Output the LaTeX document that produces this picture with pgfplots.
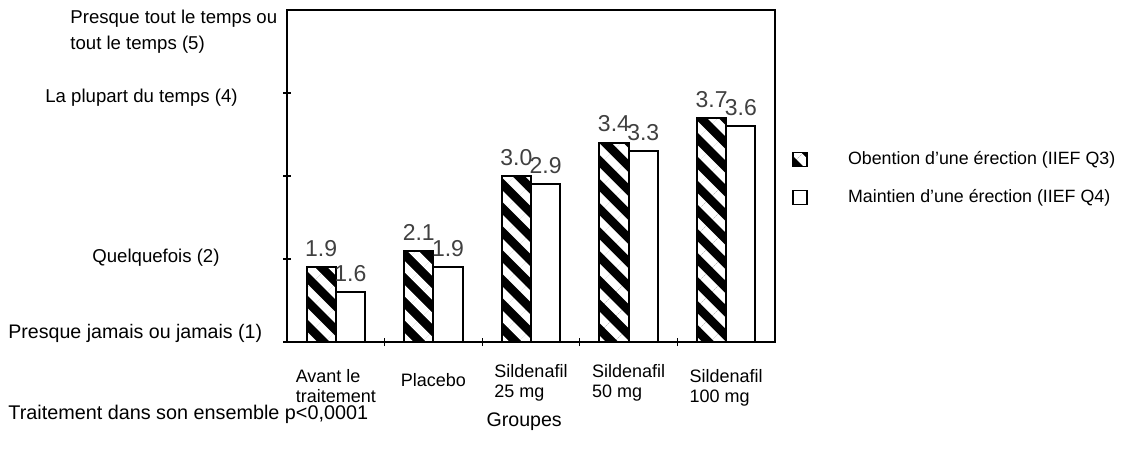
\documentclass[border=0pt]{standalone}
\usepackage{fontspec}
\setmainfont{Liberation Sans}
\usepackage{pgfplots}
\pgfplotsset{compat=1.18}
\usetikzlibrary{patterns.meta}

\pgfplotsset{sqlegend/.style={legend image code/.code={\draw[##1, line width=0.8pt] (0pt,-3.5pt) rectangle (7pt,3.5pt);}}}

\pgfplotstableread{
x   q3   q4
0.5 1.9  1.6
1.5 2.1  1.9
2.5 3.0  2.9
3.5 3.4  3.3
4.5 3.7  3.6
}\datatable

\begin{document}
\begin{tikzpicture}[x=1pt,y=1pt]
\path[use as bounding box] (0,0) rectangle (562.5,231.5);
\begin{axis}[
  at={(143.5pt,60.5pt)}, anchor=south west,
  scale only axis, width=244pt, height=166pt,
  xmin=0, xmax=5, ymin=1, ymax=5,
  ybar=0pt, bar width=0.3,
  axis line style={line width=0.8pt},
  tick align=center,
  major tick length=4pt,
  xtick={1,2,3,4}, xticklabels={},
  ytick={1,2,3,4}, yticklabels={},
  xtick pos=bottom, ytick pos=left,
  tick style={line width=0.6pt, black},
  extra x ticks={0.5,1.5,2.5,3.5,4.5},
  extra x tick labels={
    {\rule{0pt}{9.1pt}Avant le\\traitement},
    {\rule{0pt}{11.1pt}Placebo},
    {Sildenafil\\25 mg},
    {Sildenafil\\50 mg},
    {\rule{0pt}{9.1pt}Sildenafil\\100 mg}},
  extra x tick style={major tick length=0pt,
    tick label style={font=\fontsize{9}{10}\selectfont, align=left, anchor=north, yshift=-7.5pt}},
  xlabel={Groupes},
  xlabel style={at={(axis description cs:0.486,-0.24)}, anchor=center, font=\fontsize{9.8}{11}\selectfont},
  nodes near coords,
  every node near coord/.append style={font=\fontsize{11.5}{13}\selectfont, color=black!75, anchor=south, yshift=1.5pt},
  /pgf/number format/.cd, fixed, fixed zerofill, precision=1, assume math mode=true, /pgfplots/.cd,
  legend style={draw=none, fill=none, at={(1.035,0.587)}, anchor=north west, inner sep=0pt,
    column sep=18pt, row sep=7pt, font=\fontsize{8.9}{10}\selectfont},
  legend cell align=left,
]
\addplot[fill=black, draw=black, line width=1pt,
  postaction={pattern={Lines[angle=-45,distance=8.5pt,line width=4pt]}, pattern color=white},
  sqlegend]
  table[x=x, y=q3] {\datatable};
\addlegendentry{Obention d'une érection (IIEF Q3)}
\addplot[fill=white, draw=black, line width=1pt, sqlegend]
  table[x=x, y=q4] {\datatable};
\addlegendentry{Maintien d'une érection (IIEF Q4)}
\end{axis}
\begin{scope}[font=\fontsize{9.3}{13}\selectfont]
\node[anchor=west, align=left, inner sep=0pt] at (35,215.5) {Presque tout le temps ou\\tout le temps (5)};
\node[anchor=west, inner sep=0pt] at (22.5,182.5) {La plupart du temps (4)};
\node[anchor=west, inner sep=0pt] at (46,102.5) {Quelquefois (2)};
\node[anchor=west, inner sep=0pt, font=\fontsize{9.8}{12}\selectfont] at (4,65) {Presque jamais ou jamais (1)};
\node[anchor=west, inner sep=0pt, font=\fontsize{9.9}{12}\selectfont] at (4,24.5) {Traitement dans son ensemble p<0,0001};
\end{scope}
\end{tikzpicture}
\end{document}
